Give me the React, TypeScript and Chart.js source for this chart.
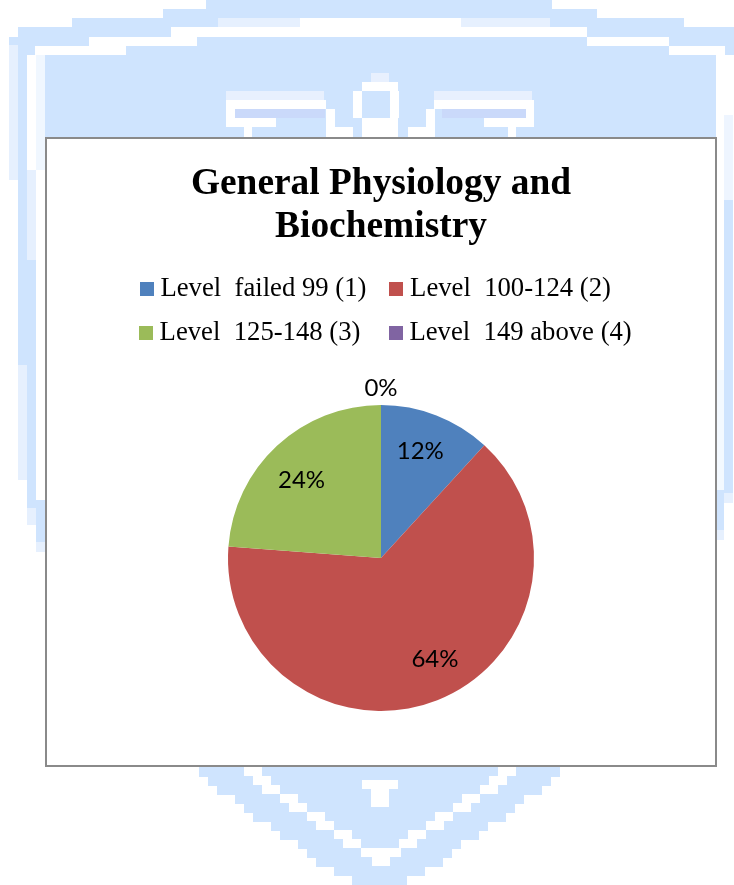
import React, { useEffect, useRef } from "react";
import { Chart, registerables } from "chart.js";

Chart.register(...registerables);

const titleLines = ["General Physiology and", "Biochemistry"];
const categories = ["Level  failed 99 (1)", "Level  100-124 (2)", "Level  125-148 (3)", "Level  149 above (4)"];
const percentages = [11.8, 64.4, 23.8, 0];
const sliceColors = ["#4F81BD", "#C0504D", "#9BBB59", "#8064A2"];
const legendTrailing = [" \u2009", "   ", " \u2009\u2009", ""];
const labelNudges = [[-2, -1], [12, -5], [-2, 6], [0, 0]];

const BLUE = "#CFE4FE";
const PALE = "#E6F0FE";
const WHITE = "#FFFFFF";
// Watermark behind the chart: [x, y, w, h, colour]
const watermark: [number, number, number, number, string][] = [
  [206, 0, 346, 9, BLUE],
  [163, 9, 434, 9, BLUE],
  [72, 18, 612, 9, BLUE],
  [18, 27, 716, 10, BLUE],
  [9, 37, 725, 18, BLUE],
  [45, 55, 671, 82, BLUE],
  [18, 55, 9, 310, BLUE],
  [9, 45, 9, 135, PALE],
  [18, 365, 9, 115, PALE],
  [27, 260, 9, 248, BLUE],
  [27, 508, 9, 17, PALE],
  [36, 500, 9, 42, BLUE],
  [36, 542, 9, 10, PALE],
  [27, 55, 9, 115, WHITE],
  [27, 170, 9, 90, PALE],
  [36, 55, 9, 115, "#F0F7FF"],
  [724, 200, 9, 293, BLUE],
  [724, 493, 9, 10, PALE],
  [717, 490, 7, 40, BLUE],
  [717, 530, 7, 10, PALE],
  [717, 370, 7, 120, "#F3F9FF"],
  [724, 115, 9, 85, "#EEF5FF"],
  // white arch across the top
  [218, 18, 332, 9, PALE],
  [300, 18, 161, 9, WHITE],
  [171, 27, 416, 10, WHITE],
  [89, 37, 108, 9, WHITE],
  [587, 37, 82, 9, WHITE],
  [35, 46, 91, 9, WHITE],
  [669, 46, 56, 9, WHITE],
  // emblem: wings and centre ring
  [226, 91, 98, 9, "#E8F0FE"],
  [226, 100, 100, 9, WHITE],
  [226, 109, 9, 18, WHITE],
  [235, 109, 90, 9, "#CAD9FA"],
  [226, 118, 50, 9, WHITE],
  [244, 127, 8, 10, WHITE],
  [326, 109, 9, 28, WHITE],
  [434, 91, 98, 9, "#E8F0FE"],
  [434, 100, 100, 9, WHITE],
  [525, 109, 9, 18, WHITE],
  [442, 109, 84, 9, "#CAD9FA"],
  [484, 118, 50, 9, WHITE],
  [508, 127, 8, 10, WHITE],
  [426, 109, 9, 28, WHITE],
  [362, 82, 36, 9, WHITE],
  [353, 91, 9, 27, WHITE],
  [390, 91, 9, 27, WHITE],
  [362, 118, 36, 19, WHITE],
  [371, 73, 18, 9, "#E8F0FE"],
  [335, 127, 18, 10, WHITE],
  [408, 127, 18, 10, WHITE],
];
// Lower point of the watermark: row of [y, left, right]
const lowerRows = [
  [767, 199, 560], [776, 208, 551], [785, 217, 542], [794, 235, 524], [803, 244, 515],
  [812, 253, 506], [821, 271, 488], [830, 280, 479], [839, 298, 461], [848, 307, 452],
  [857, 316, 443], [866, 334, 425], [875, 352, 407],
];
const lowerWhite: [number, number, number, number][] = [
  [244, 767, 18, 9], [498, 767, 18, 9],
  [253, 776, 18, 9], [489, 776, 18, 9],
  [262, 785, 18, 9], [480, 785, 18, 9],
  [280, 794, 18, 9], [462, 794, 18, 9],
  [289, 803, 18, 9], [453, 803, 18, 9],
  [307, 812, 18, 9], [435, 812, 18, 9],
  [316, 821, 18, 9], [426, 821, 18, 9],
  [334, 830, 18, 9], [408, 830, 18, 9],
  [343, 839, 18, 9], [399, 839, 18, 9],
  [361, 848, 40, 9], [372, 857, 18, 9],
  [362, 780, 36, 9], [371, 789, 18, 18],
];

const percentLabels = {
  id: "percentLabels",
  afterLayout(chart: any) {
    // The legend block sits a little right of the centred pie.
    chart.legend.left += 15;
  },
  afterDatasetsDraw(chart: any) {
    const { ctx } = chart;
    const meta = chart.getDatasetMeta(0);
    ctx.save();
    ctx.font = "24px Lato";
    ctx.fillStyle = "#000";
    ctx.textAlign = "center";
    ctx.textBaseline = "middle";
    meta.data.forEach((arc: any, i: number) => {
      const value = percentages[i];
      if (value === 0) return;
      const mid = (arc.startAngle + arc.endAngle) / 2;
      const r = arc.outerRadius * 0.745;
      ctx.fillText(Math.round(value) + "%", arc.x + Math.cos(mid) * r + labelNudges[i][0], arc.y + Math.sin(mid) * r + labelNudges[i][1]);
    });
    const last = meta.data[3];
    ctx.fillText(percentages[3] + "%", last.x, last.y - last.outerRadius * 1.107);
    ctx.restore();
  },
};

function swatch(color: string) {
  const c = document.createElement("canvas");
  c.width = 14;
  c.height = 14;
  const g = c.getContext("2d")!;
  g.fillStyle = color;
  g.fillRect(0, 0, 14, 14);
  return c;
}

export default function App() {
  const ref = useRef<HTMLCanvasElement>(null);
  useEffect(() => {
    const chart = new Chart(ref.current!, {
      type: "pie",
      data: {
        labels: categories,
        datasets: [{ data: percentages, backgroundColor: sliceColors, borderWidth: 0, radius: 153 }],
      },
      options: {
        responsive: false,
        animation: false,
        layout: { padding: { bottom: 7 } },
        plugins: {
          tooltip: { enabled: false },
          title: {
            display: true,
            text: titleLines,
            color: "#000",
            font: { family: "Liberation Serif", size: 37.4, weight: "bold", lineHeight: 1.15 },
            padding: { top: 26, bottom: 9 },
          },
          legend: {
            display: true,
            position: "top",
            labels: {
              color: "#000",
              font: { family: "Liberation Serif", size: 26.7 },
              padding: 17.3,
              boxHeight: 14,
              usePointStyle: true,
              pointStyleWidth: 1,
              generateLabels: () =>
                categories.map((text, i) => ({
                  text: text + legendTrailing[i],
                  fillStyle: sliceColors[i],
                  strokeStyle: sliceColors[i],
                  lineWidth: 0,
                  hidden: false,
                  index: i,
                  pointStyle: swatch(sliceColors[i]),
                })),
            },
          },
        },
      },
      plugins: [percentLabels],
    } as any);
    return () => chart.destroy();
  }, []);

  return (
    <div style={{ position: "absolute", left: 0, top: 0, width: 734, height: 885, overflow: "hidden", background: "#fff" }}>
      <svg width={734} height={885} style={{ position: "absolute", left: 0, top: 0 }} shapeRendering="crispEdges">
        {watermark.map(([x, y, w, h, fill], i) => (
          <rect key={"w" + i} x={x} y={y} width={w} height={h} fill={fill} />
        ))}
        {lowerRows.map(([y, l, r], i) => (
          <rect key={"l" + i} x={l} y={y} width={r - l} height={10} fill={BLUE} />
        ))}
        {lowerWhite.map(([x, y, w, h], i) => (
          <rect key={"v" + i} x={x} y={y} width={w} height={h} fill={WHITE} />
        ))}
      </svg>
      <div style={{ position: "absolute", left: 45, top: 137, width: 672, height: 630, background: "#fff" }}>
        <canvas ref={ref} width={672} height={630} style={{ display: "block" }} />
        <div style={{ position: "absolute", inset: 0, border: "2px solid #8A8A8A", boxSizing: "border-box", pointerEvents: "none" }} />
      </div>
    </div>
  );
}
